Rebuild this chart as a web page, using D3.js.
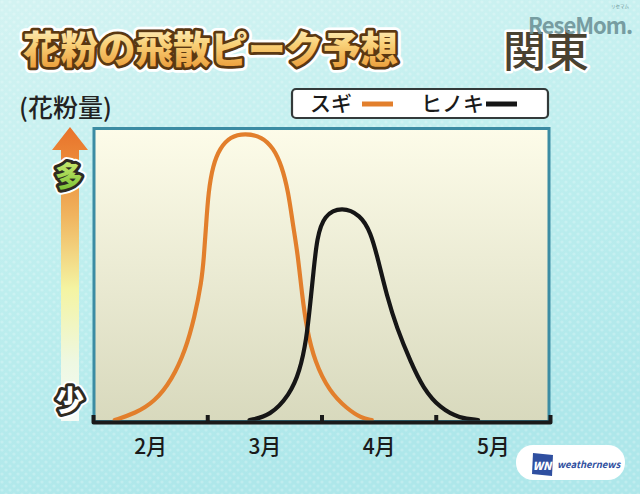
<!DOCTYPE html>
<html>
<head>
<meta charset="utf-8">
<script src="https://cdn.jsdelivr.net/npm/d3@7"></script>
<style>
html,body{margin:0;padding:0;background:#bfeeee;}
svg{display:block;}
text{font-family:"Noto Sans CJK JP","Noto Sans",sans-serif;}
</style>
</head>
<body>
<script>
// ---- data ----
const monthLabels = ["2月","3月","4月","5月"];
const monthStarts = [2,3,4,5,6];
const monthMids = [2.5,3.5,4.5,5.5];
const sugiMonth  = [2.19,2.37,2.54,2.69,2.81,2.89,2.95,2.97,2.99,3.01,3.05,3.11,3.20,3.33,3.48,3.58,3.65,3.71,3.75,3.79,3.83,3.87,3.94,4.07,4.22,4.35,4.44];
const sugiValue  = [0,2.3,6.3,13.8,24.1,35.6,47.6,55.8,67.2,78.7,87.9,93.7,97.7,98.9,97.7,93.7,87.9,78.7,67.2,57.9,43.1,31.6,20.1,9.8,4.0,0.6,0];
const hinokiMonth = [3.37,3.55,3.72,3.81,3.87,3.90,3.93,3.96,4.02,4.18,4.34,4.43,4.50,4.57,4.66,4.78,4.89,5.04,5.21,5.37];
const hinokiValue = [0,1.4,8.6,16.7,28.2,39.7,51.1,62.7,70.7,73.6,70.7,64.9,54.6,43.1,31.6,20.1,10.9,4.0,0.6,0];
const legendItems = [{name:"スギ",color:"#e27f2c"},{name:"ヒノキ",color:"#161616"}];

const W = 640, H = 494;
const svg = d3.select("body").append("svg").attr("width",W).attr("height",H);
const defs = svg.append("defs");

// background
const bg = defs.append("linearGradient").attr("id","bg").attr("x1",0).attr("y1",0).attr("x2",0.3).attr("y2",1);
bg.append("stop").attr("offset","0%").attr("stop-color","#d3f3f2");
bg.append("stop").attr("offset","55%").attr("stop-color","#bdeeee");
bg.append("stop").attr("offset","100%").attr("stop-color","#aee7ea");
svg.append("rect").attr("width",W).attr("height",H).attr("fill","url(#bg)");
const pat = defs.append("pattern").attr("id","dots").attr("width",8).attr("height",8).attr("patternUnits","userSpaceOnUse");
pat.append("circle").attr("cx",2).attr("cy",2).attr("r",1.6).attr("fill","#ffffff").attr("opacity",0.35);
pat.append("circle").attr("cx",6).attr("cy",6).attr("r",1.6).attr("fill","#ffffff").attr("opacity",0.35);
svg.append("rect").attr("width",W).attr("height",H).attr("fill","url(#dots)").attr("opacity",0.6);

// scales
const x = d3.scaleLinear().domain([2,6]).range([93,550]);
const y = d3.scaleLinear().domain([0,100]).range([420,130]);

// plot frame
const pg = defs.append("linearGradient").attr("id","plotbg").attr("x1",0).attr("y1",0).attr("x2",0).attr("y2",1);
pg.append("stop").attr("offset","0%").attr("stop-color","#fdfce9");
pg.append("stop").attr("offset","100%").attr("stop-color","#d8d9bd");
svg.append("rect").attr("x",94).attr("y",128.5).attr("width",455).attr("height",293)
  .attr("fill","url(#plotbg)").attr("stroke","#3b8ca3").attr("stroke-width",3);

// curves
const clip = defs.append("clipPath").attr("id","clip");
clip.append("rect").attr("x",95).attr("y",125).attr("width",453).attr("height",295.5);
const line = d3.line().x(d=>x(d[0])).y(d=>y(d[1])).curve(d3.curveBasis);
const g = svg.append("g").attr("clip-path","url(#clip)");
g.append("path").datum(d3.zip(sugiMonth,sugiValue)).attr("d",line)
  .attr("fill","none").attr("stroke",legendItems[0].color).attr("stroke-width",4.2).attr("stroke-linecap","round");
g.append("path").datum(d3.zip(hinokiMonth,hinokiValue)).attr("d",line)
  .attr("fill","none").attr("stroke",legendItems[1].color).attr("stroke-width",4.2).attr("stroke-linecap","round");

// x axis (ticks upward)
const ax = svg.append("g").attr("transform","translate(0,422)")
  .call(d3.axisBottom(x).tickValues(monthStarts.slice(1,4)).tickSizeInner(-7).tickSizeOuter(-7).tickFormat(""));
ax.selectAll("path,line").attr("stroke","#1a1a1a").attr("stroke-width",4);
ax.select("path").attr("stroke-linejoin","round");
const ax2 = svg.append("g").attr("transform","translate(0,436)")
  .call(d3.axisBottom(x).tickValues(monthMids).tickSize(0).tickFormat((d,i)=>monthLabels[i]));
ax2.select(".domain").remove();
ax2.selectAll("text").attr("font-size",21).attr("fill","#1a1a1a").attr("font-family","\"Noto Sans CJK JP\",sans-serif").attr("font-weight",500);

// arrow
const ag = defs.append("linearGradient").attr("id","arrowg").attr("x1",0).attr("y1",0).attr("x2",0).attr("y2",1);
ag.append("stop").attr("offset","0%").attr("stop-color","#e8722a");
ag.append("stop").attr("offset","12%").attr("stop-color","#ec8a3a");
ag.append("stop").attr("offset","30%").attr("stop-color","#f0b45e");
ag.append("stop").attr("offset","55%").attr("stop-color","#f4f4a2");
ag.append("stop").attr("offset","80%").attr("stop-color","#eef8e2");
ag.append("stop").attr("offset","100%").attr("stop-color","#f5fbf6");
svg.append("path").attr("d","M70,127 L88,150 L79,150 L79,421 L61,421 L61,150 L52,150 Z").attr("fill","url(#arrowg)");

// 多 / 少 labels
const gg = defs.append("linearGradient").attr("id","greeng").attr("x1",0).attr("y1",0).attr("x2",0).attr("y2",1);
gg.append("stop").attr("offset","0%").attr("stop-color","#d9f07a");
gg.append("stop").attr("offset","100%").attr("stop-color","#6fbd2c");
function badge(txt, cx, cy, fill){
  svg.append("text").attr("x",cx).attr("y",cy).attr("text-anchor","middle").attr("dominant-baseline","central")
    .attr("font-size",28).attr("font-weight",900).attr("fill","none").attr("stroke","#ffffff").attr("stroke-width",10).attr("stroke-linejoin","round").text(txt);
  svg.append("text").attr("x",cx).attr("y",cy).attr("text-anchor","middle").attr("dominant-baseline","central")
    .attr("font-size",28).attr("font-weight",900).attr("fill",fill).attr("stroke","#2e2a22").attr("stroke-width",6)
    .attr("stroke-linejoin","round").attr("paint-order","stroke").text(txt);
}
badge("多",69,175,"url(#greeng)");
badge("少",70,399,"#ffffff");

// y label
svg.append("text").attr("x",19).attr("y",117).attr("font-size",25).attr("fill","#222").attr("font-weight",500).text("(花粉量)");

// legend
const lg = svg.append("g");
lg.append("rect").attr("x",292).attr("y",89).attr("width",256).attr("height",29).attr("rx",4)
  .attr("fill","#ffffff").attr("stroke","#333a3a").attr("stroke-width",2.2);
const legPos = [{tx:310,lx1:362,lx2:393},{tx:421,lx1:486,lx2:517}];
legendItems.forEach((d,i)=>{
  lg.append("text").attr("x",legPos[i].tx).attr("y",111).attr("font-size",21).attr("fill","#1a1a1a").attr("font-weight",500).text(d.name);
  lg.append("line").attr("x1",legPos[i].lx1).attr("x2",legPos[i].lx2).attr("y1",104).attr("y2",104)
    .attr("stroke",d.color).attr("stroke-width",5);
});

// title
const tg = defs.append("linearGradient").attr("id","titleg").attr("x1",0).attr("y1",0).attr("x2",0).attr("y2",1);
tg.append("stop").attr("offset","0%").attr("stop-color","#fffbe0");
tg.append("stop").attr("offset","45%").attr("stop-color","#f9d27a");
tg.append("stop").attr("offset","100%").attr("stop-color","#e8922c");
const title = "花粉の飛散ピーク予想";
svg.append("text").attr("x",23).attr("y",63).attr("font-size",37.5).attr("font-weight",900)
  .attr("fill","none").attr("stroke","#ffffff").attr("stroke-width",11).attr("stroke-linejoin","round").text(title);
svg.append("text").attr("x",23).attr("y",63).attr("font-size",37.5).attr("font-weight",900)
  .attr("fill","url(#titleg)").attr("stroke","#5a3812").attr("stroke-width",5.5).attr("stroke-linejoin","round")
  .attr("paint-order","stroke").text(title);

// region
svg.append("text").attr("x",503).attr("y",67).attr("font-size",43).attr("font-weight",500)
  .attr("fill","#4a4231").attr("stroke","#ffffff").attr("stroke-width",5).attr("stroke-linejoin","round").attr("paint-order","stroke").text("関東");

// ReseMom logo
svg.append("text").attr("x",528).attr("y",34).attr("font-family","Roboto,sans-serif").attr("font-size",22).attr("font-weight",700)
  .attr("fill","#6e9499").attr("opacity",0.9).attr("letter-spacing",-1).text("ReseMom.");
svg.append("text").attr("x",611).attr("y",8).attr("font-size",4.5).attr("fill","#6e9499").text("リセマム");

// weathernews logo
svg.append("rect").attr("x",516).attr("y",445).attr("width",109).attr("height",35).attr("rx",17).attr("fill","#ffffff");
svg.append("path").attr("d","M533,453 L553,455 L552,476 L532,474 Z").attr("fill","#2f4fa0");
svg.append("text").attr("x",542).attr("y",470).attr("text-anchor","middle").attr("font-family","Roboto,sans-serif")
  .attr("font-size",11).attr("font-weight",900).attr("font-style","italic").attr("fill","#ffffff").text("WN");
svg.append("text").attr("x",557).attr("y",468).attr("font-family","Roboto,sans-serif").attr("font-size",9.5)
  .attr("font-weight",700).attr("font-style","italic").attr("fill","#2f4fa0").text("weathernews");
</script>
</body>
</html>
